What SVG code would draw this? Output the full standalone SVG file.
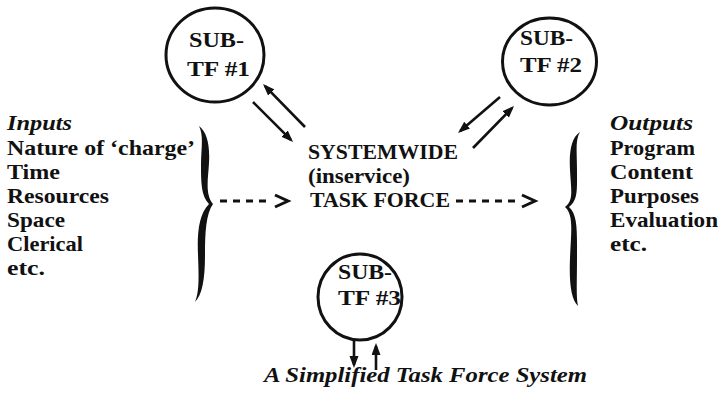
<svg xmlns="http://www.w3.org/2000/svg" width="719" height="397" viewBox="0 0 719 397" font-family="Liberation Serif, Times New Roman, DejaVu Serif, serif">
  <style>
    text { font-size: 22px; font-weight: bold; fill: #111; }
    .it { font-style: italic; }
    .ring { fill: none; stroke: #111; stroke-width: 3; }
    .arrow { fill: none; stroke: #111; stroke-width: 2.6; marker-end: url(#head); }
    .dash { fill: none; stroke: #111; stroke-width: 3; stroke-dasharray: 7 6; }
    .chev { fill: none; stroke: #111; stroke-width: 3; stroke-linejoin: miter; }
    .brace { fill: #111; stroke: none; }
  </style>
  <defs>
    <marker id="head" markerUnits="userSpaceOnUse" markerWidth="14" markerHeight="10" refX="9" refY="4.5" orient="auto">
      <path d="M0,0 L12,4.5 L0,9 Z" fill="#111"/>
    </marker>
  </defs>
  <rect width="719" height="397" fill="#fff"/>

  <!-- sub task force 1 -->
  <g id="subtf1">
    <ellipse class="ring" cx="215" cy="55" rx="49" ry="47"/>
    <text x="189" y="47" textLength="55" lengthAdjust="spacingAndGlyphs">SUB-</text>
    <text x="187" y="76" textLength="63" lengthAdjust="spacingAndGlyphs">TF #1</text>
  </g>

  <!-- sub task force 2 -->
  <g id="subtf2">
    <ellipse class="ring" cx="549.5" cy="61.5" rx="47" ry="43.5"/>
    <text x="520" y="45" textLength="53" lengthAdjust="spacingAndGlyphs">SUB-</text>
    <text x="520" y="72" textLength="62" lengthAdjust="spacingAndGlyphs">TF #2</text>
  </g>

  <!-- sub task force 3 -->
  <g id="subtf3">
    <ellipse class="ring" cx="360" cy="297" rx="42" ry="43"/>
    <text x="338" y="279" textLength="54" lengthAdjust="spacingAndGlyphs">SUB-</text>
    <text x="338" y="305" textLength="63" lengthAdjust="spacingAndGlyphs">TF #3</text>
  </g>

  <!-- central task force -->
  <g id="taskforce">
    <text x="308" y="159" textLength="150" lengthAdjust="spacingAndGlyphs">SYSTEMWIDE</text>
    <text x="308" y="183" font-weight="normal" textLength="102" lengthAdjust="spacingAndGlyphs">(inservice)</text>
    <text x="310" y="207" textLength="140" lengthAdjust="spacingAndGlyphs">TASK FORCE</text>
  </g>

  <!-- inputs list with brace -->
  <g id="inputs">
    <text class="it" x="7" y="130" textLength="65" lengthAdjust="spacingAndGlyphs">Inputs</text>
    <text x="7" y="155" textLength="188" lengthAdjust="spacingAndGlyphs">Nature of ‘charge’</text>
    <text x="7" y="179" textLength="53" lengthAdjust="spacingAndGlyphs">Time</text>
    <text x="7" y="203" textLength="102" lengthAdjust="spacingAndGlyphs">Resources</text>
    <text x="7" y="227" textLength="58" lengthAdjust="spacingAndGlyphs">Space</text>
    <text x="7" y="251" textLength="76" lengthAdjust="spacingAndGlyphs">Clerical</text>
    <text x="7" y="275" textLength="38" lengthAdjust="spacingAndGlyphs">etc.</text>
    <path class="brace" d="M199,126 C207,132 210,145 209,163 C208,180 205,194 213,204 C206,214 205,232 205,255 C205,280 202,295 195,302 C199,292 199,280 198,255 C197,232 199,214 209,204 C201,196 201,182 201,165 C201,148 204,136 199,126 Z"/>
  </g>

  <!-- outputs list with brace -->
  <g id="outputs">
    <path class="brace" d="M580,132 C571,138 569,152 570,170 C571,190 574,200 565,207 C574,215 571,232 570,258 C569,283 571,299 578,306 C576,297 577,283 577,258 C577,232 578,215 569,207 C578,200 577,190 577,170 C577,152 575,140 580,132 Z"/>
    <text class="it" x="610" y="130" textLength="83" lengthAdjust="spacingAndGlyphs">Outputs</text>
    <text x="610" y="155" textLength="85" lengthAdjust="spacingAndGlyphs">Program</text>
    <text x="610" y="179" textLength="83" lengthAdjust="spacingAndGlyphs">Content</text>
    <text x="610" y="203" textLength="89" lengthAdjust="spacingAndGlyphs">Purposes</text>
    <text x="610" y="227" textLength="108" lengthAdjust="spacingAndGlyphs">Evaluation</text>
    <text x="610" y="251" textLength="37" lengthAdjust="spacingAndGlyphs">etc.</text>
  </g>

  <!-- caption -->
  <g id="caption">
    <text class="it" x="264" y="382" textLength="323" lengthAdjust="spacingAndGlyphs">A Simplified Task Force System</text>
  </g>

  <!-- connectors -->
  <g id="connectors">
    <path class="arrow" d="M305,127 L265.1,86.1"/>
    <path class="arrow" d="M253,102 L290.9,139.9"/>
    <path class="arrow" d="M500,97 L460.3,131"/>
    <path class="arrow" d="M473,148 L511.9,108.1"/>
    <path class="arrow" d="M354,341 L354,365"/>
    <path class="arrow" d="M376,370 L376,346"/>
    <path class="dash" d="M220,201 L268,201"/>
    <polyline class="chev" points="275,195 288,201 275,207"/>
    <path class="dash" d="M456,201 L515,201"/>
    <polyline class="chev" points="522,195 535,201 522,207"/>
  </g>
</svg>
